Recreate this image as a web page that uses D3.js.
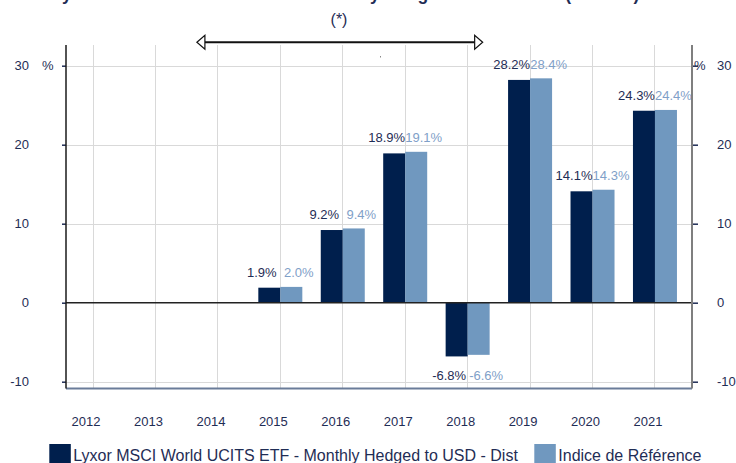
<!DOCTYPE html>
<html>
<head>
<meta charset="utf-8">
<style>
  body { margin: 0; background: #fff; }
  svg { display: block; font-family: "Liberation Sans", Arial, sans-serif; }
  .grid line { stroke: #d9d9d9; stroke-width: 1; shape-rendering: crispEdges; }
  .tick-label { fill: #1f2d55; font-size: 13px; }
</style>
</head>
<body>
<svg width="736" height="463"></svg>
<script src="https://d3js.org/d3.v7.min.js"></script>
<script>
var years = ["2012", "2013", "2014", "2015", "2016", "2017", "2018", "2019", "2020", "2021"];
var fundValues = [null, null, null, 1.9, 9.2, 18.9, -6.8, 28.2, 14.1, 24.3];
var indexValues = [null, null, null, 2.0, 9.4, 19.1, -6.6, 28.4, 14.3, 24.4];
var yTicks = [-10, 0, 10, 20, 30];
var seriesNames = ["Lyxor MSCI World UCITS ETF - Monthly Hedged to USD - Dist", "Indice de Référence"];
var colors = ["#001f4d", "#7098bf"];
var labelColors = ["#1f2d55", "#7fa0c8"];

var plot = {left: 66, right: 692, top: 45, bottom: 388.5};

var svg = d3.select("svg");

// scales
var x0 = d3.scaleBand().domain(years).range([61.8, 686.2]).padding(0);
var x1 = d3.scaleBand().domain([0, 1]).range([9.2, 53.2]).padding(0);
var y = d3.scaleLinear().domain([-10, 30]).range([381.7, 65.7]);
function cx(d) { return x0(d) + x0.bandwidth() / 2; }

// title, cut off at the top edge as in the source
svg.append("text")
  .attr("x", 52).attr("y", 0)
  .attr("fill", "#1f2d55")
  .style("font-weight", "bold")
  .style("font-size", "17.5px")
  .text("Lyxor MSCI World UCITS ETF - Monthly Hedged to USD - Dist (en USD)");

// grid
var grid = svg.append("g").attr("class", "grid");
grid.selectAll(".v").data(years).enter().append("line")
  .attr("x1", cx).attr("x2", cx)
  .attr("y1", plot.top).attr("y2", plot.bottom);
grid.selectAll(".h").data(yTicks.filter(function(t) { return t !== 0; })).enter().append("line")
  .attr("x1", plot.left).attr("x2", plot.right)
  .attr("y1", function(d) { return Math.round(y(d)) + 0.5; })
  .attr("y2", function(d) { return Math.round(y(d)) + 0.5; });

// bars
var rows = years.map(function(yr, i) { return {year: yr, vals: [fundValues[i], indexValues[i]]}; });
var groups = svg.selectAll(".yr").data(rows).enter().append("g")
  .attr("transform", function(d) { return "translate(" + x0(d.year) + ",0)"; });

groups.selectAll("rect")
  .data(function(d) { return d.vals.map(function(v, k) { return {k: k, v: v}; }).filter(function(e) { return e.v !== null; }); })
  .enter().append("rect")
  .attr("x", function(d) { return x1(d.k); })
  .attr("width", x1.bandwidth())
  .attr("y", function(d) { return Math.min(y(d.v), y(0)); })
  .attr("height", function(d) { return Math.abs(y(d.v) - y(0)); })
  .attr("fill", function(d) { return colors[d.k]; });

// value labels
groups.each(function(d) {
  if (d.vals[0] === null) return;
  var g = d3.select(this);
  var mid = x0.bandwidth() / 2;
  var ly;
  if (d.vals[0] >= 0) ly = y(Math.max(d.vals[0], d.vals[1])) - 9.5;
  else ly = y(Math.min(d.vals[0], d.vals[1])) + 24;
  [0, 1].forEach(function(k) {
    g.append("text")
      .attr("x", mid + (k === 0 ? -18.5 : 18.5))
      .attr("y", ly)
      .attr("text-anchor", "middle")
      .attr("fill", labelColors[k])
      .style("font-size", "13px")
      .text(d.vals[k].toFixed(1) + "%");
  });
});

// zero line
svg.append("line")
  .attr("x1", plot.left).attr("x2", plot.right)
  .attr("y1", y(0)).attr("y2", y(0))
  .attr("stroke", "#222").attr("stroke-width", 1.5);

// bottom frame line
svg.append("line")
  .attr("x1", plot.left).attr("x2", plot.right)
  .attr("y1", plot.bottom).attr("y2", plot.bottom)
  .attr("stroke", "#6a7c99").attr("stroke-width", 2);

// left axis
var leftAxis = svg.append("g").attr("transform", "translate(" + plot.left + ",0)")
  .call(d3.axisLeft(y).tickValues(yTicks).tickSize(4).tickFormat(""));
leftAxis.select(".domain").remove();
leftAxis.selectAll(".tick line").attr("stroke", "#1f2d55").attr("stroke-width", 1.5);
svg.append("line")
  .attr("x1", plot.left).attr("x2", plot.left)
  .attr("y1", plot.top).attr("y2", plot.bottom)
  .attr("stroke", "#1a1a1a").attr("stroke-width", 1.5);
svg.selectAll(".ly").data(yTicks).enter().append("text")
  .attr("class", "tick-label")
  .attr("x", 29).attr("y", function(d) { return y(d) + 4.5; })
  .attr("text-anchor", "end")
  .text(function(d) { return d; });
svg.append("text").attr("class", "tick-label")
  .attr("x", 42).attr("y", y(30) + 4.5).text("%");

// right axis
var rightAxis = svg.append("g").attr("transform", "translate(" + plot.right + ",0)")
  .call(d3.axisRight(y).tickValues(yTicks).tickSize(6).tickFormat(""));
rightAxis.select(".domain").remove();
rightAxis.selectAll(".tick line").attr("stroke", "#1f2d55").attr("stroke-width", 1.5);
svg.append("line")
  .attr("x1", plot.right).attr("x2", plot.right)
  .attr("y1", plot.top).attr("y2", plot.bottom)
  .attr("stroke", "#7f7f7f").attr("stroke-width", 2);
svg.selectAll(".ry").data(yTicks).enter().append("text")
  .attr("class", "tick-label")
  .attr("x", 717).attr("y", function(d) { return y(d) + 4.5; })
  .text(function(d) { return d; });
svg.append("text").attr("class", "tick-label")
  .attr("x", 694).attr("y", y(30) + 4.5).text("%");

// x labels
svg.selectAll(".xl").data(years).enter().append("text")
  .attr("class", "tick-label")
  .attr("x", function(d) { return cx(d) - 7; })
  .attr("y", 426)
  .attr("text-anchor", "middle")
  .text(function(d) { return d; });

// (*) arrow over 2014 - 2018
var arrowY = 42.3;
var ax1 = cx("2014") - 21, ax2 = cx("2018") + 15;
svg.append("line")
  .attr("x1", ax1 + 8).attr("x2", ax2 - 8)
  .attr("y1", arrowY).attr("y2", arrowY)
  .attr("stroke", "#111").attr("stroke-width", 2);
svg.append("path")
  .attr("d", "M" + ax1 + "," + arrowY + "L" + (ax1 + 8) + "," + (arrowY - 7) + "L" + (ax1 + 8) + "," + (arrowY + 7) + "Z")
  .attr("fill", "#fff").attr("stroke", "#111").attr("stroke-width", 1.2);
svg.append("path")
  .attr("d", "M" + ax2 + "," + arrowY + "L" + (ax2 - 8) + "," + (arrowY - 7) + "L" + (ax2 - 8) + "," + (arrowY + 7) + "Z")
  .attr("fill", "#fff").attr("stroke", "#111").attr("stroke-width", 1.2);
svg.append("text")
  .attr("x", 339).attr("y", 25)
  .attr("text-anchor", "middle")
  .attr("fill", "#1f2d55")
  .style("font-size", "16px")
  .text("(*)");
svg.append("rect").attr("x", 380).attr("y", 56).attr("width", 1).attr("height", 1.5).attr("fill", "#888");

// legend
var legX = [49.3, 534.3];
seriesNames.forEach(function(name, k) {
  svg.append("rect")
    .attr("x", legX[k]).attr("y", 444)
    .attr("width", 21.5).attr("height", 22)
    .attr("fill", colors[k]);
  svg.append("text")
    .attr("x", legX[k] + 24).attr("y", 461)
    .attr("fill", "#1f2d55")
    .style("font-size", "16px")
    .text(name);
});
</script>
</body>
</html>
